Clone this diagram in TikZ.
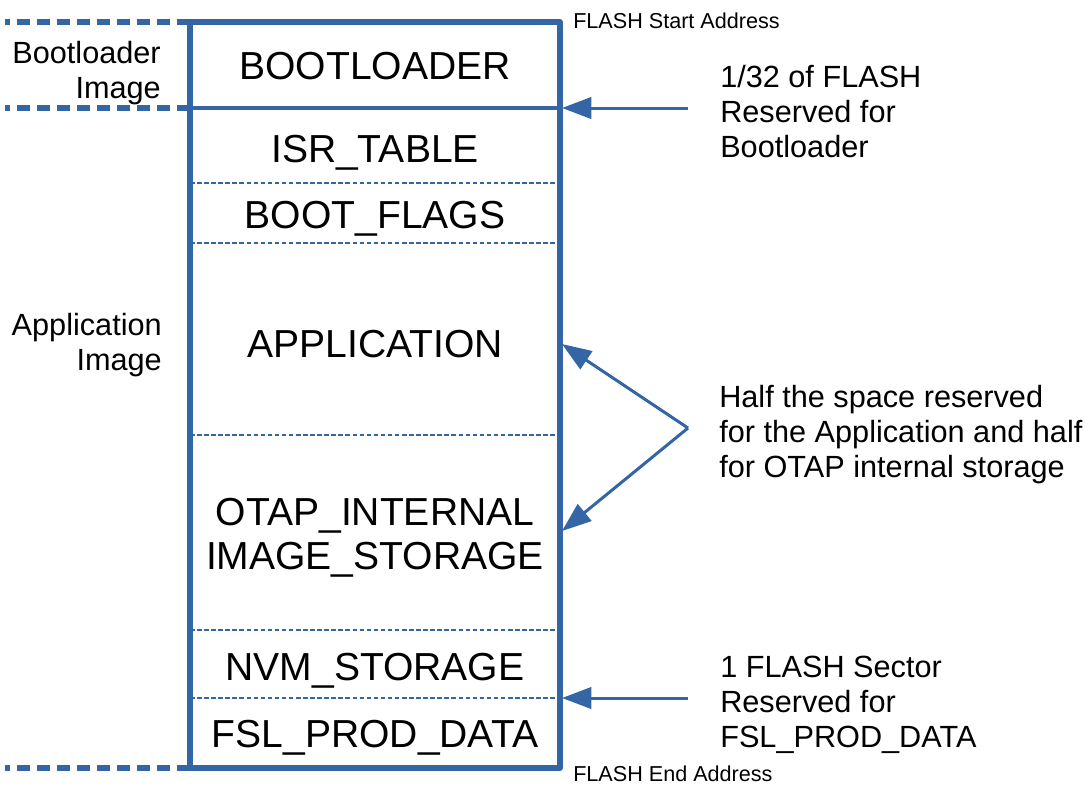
\documentclass[tikz,border=0pt]{standalone}
\usepackage{fontspec}
\setmainfont{Liberation Sans}
\usetikzlibrary{arrows.meta,positioning}
\definecolor{flashblue}{HTML}{3465A4}

\begin{document}
\begin{tikzpicture}[
    x=0.75pt, y=-0.75pt,
    region/.style={font=\fontsize{29.3}{32.3}\selectfont, align=center, anchor=base, inner sep=0pt},
    note/.style={font=\fontsize{23}{25.9}\selectfont, align=left, anchor=base west, inner sep=0pt},
    side/.style={font=\fontsize{23}{25.9}\selectfont, align=right, anchor=base east, inner sep=0pt},
    addr/.style={font=\fontsize{16.2}{19}\selectfont, anchor=base west, inner sep=0pt},
    sep/.style={draw=flashblue, line width=1.5pt, dash pattern=on 3.4pt off 1.9pt},
    limit/.style={draw=flashblue, line width=4pt, dash pattern=on 9.75pt off 5.25pt},
    pointer/.style={draw=flashblue, line width=2.25pt, -{Triangle[length=22pt, width=16pt]}}
]
\useasboundingbox (0,0) rectangle (1085,793);

% image limits on the left
\draw[limit] (190,22) -- (5,22);
\draw[limit] (190,108) -- (5,108);
\draw[limit] (190,768) -- (5,768);

% sections of the flash
\draw[flashblue, line width=2.6pt] (190,108) -- (560,108);
\draw[sep] (190,183) -- (560,183);
\draw[sep] (190,243) -- (560,243);
\draw[sep] (190,435) -- (560,435);
\draw[sep] (190,630) -- (560,630);
\draw[sep] (190,698) -- (560,698);
\draw[flashblue, line width=4pt, line join=round] (190,22) rectangle (560,768);

\node[region] (boot) at (375,79) {BOOTLOADER};
\node[region] (isr) at (375,162) {ISR\_TABLE};
\node[region] (flags) at (375,228) {BOOT\_FLAGS};
\node[region] (app) at (375,357) {APPLICATION};
\node[region] (otap) at (375,569) {OTAP\_INTERNAL\\IMAGE\_STORAGE};
\node[region] (nvm) at (375,680) {NVM\_STORAGE};
\node[region] (prod) at (375,747) {FSL\_PROD\_DATA};

% multi-line texts sit on their last line
\node[side] (bootimg) at (161,98) {Bootloader\\Image};
\node[side] (appimg) at (162,370) {Application\\Image};

\node[addr] (start) at (573,28) {FLASH Start Address};
\node[addr] (end) at (573,781) {FLASH End Address};

\node[note] (bootnote) at (720,157) {1/32 of FLASH\\Reserved for\\Bootloader};
\node[note] (halfnote) at (719,477) {Half the space reserved\\for the Application and half\\for OTAP internal storage};
\node[note] (prodnote) at (720,747) {1 FLASH Sector\\Reserved for\\FSL\_PROD\_DATA};

% pointers
\coordinate (bootfrom) at (688,108);
\coordinate (bootto) at (562,108);
\coordinate (halffrom) at (688,428);
\coordinate (appto) at (562,344);
\coordinate (otapto) at (562,531);
\coordinate (prodfrom) at (688,698);
\coordinate (prodto) at (562,698);

\draw[pointer] (bootfrom) -- (bootto);
\draw[pointer] (halffrom) -- (appto);
\draw[pointer] (halffrom) -- (otapto);
\draw[pointer] (prodfrom) -- (prodto);
\end{tikzpicture}
\end{document}
